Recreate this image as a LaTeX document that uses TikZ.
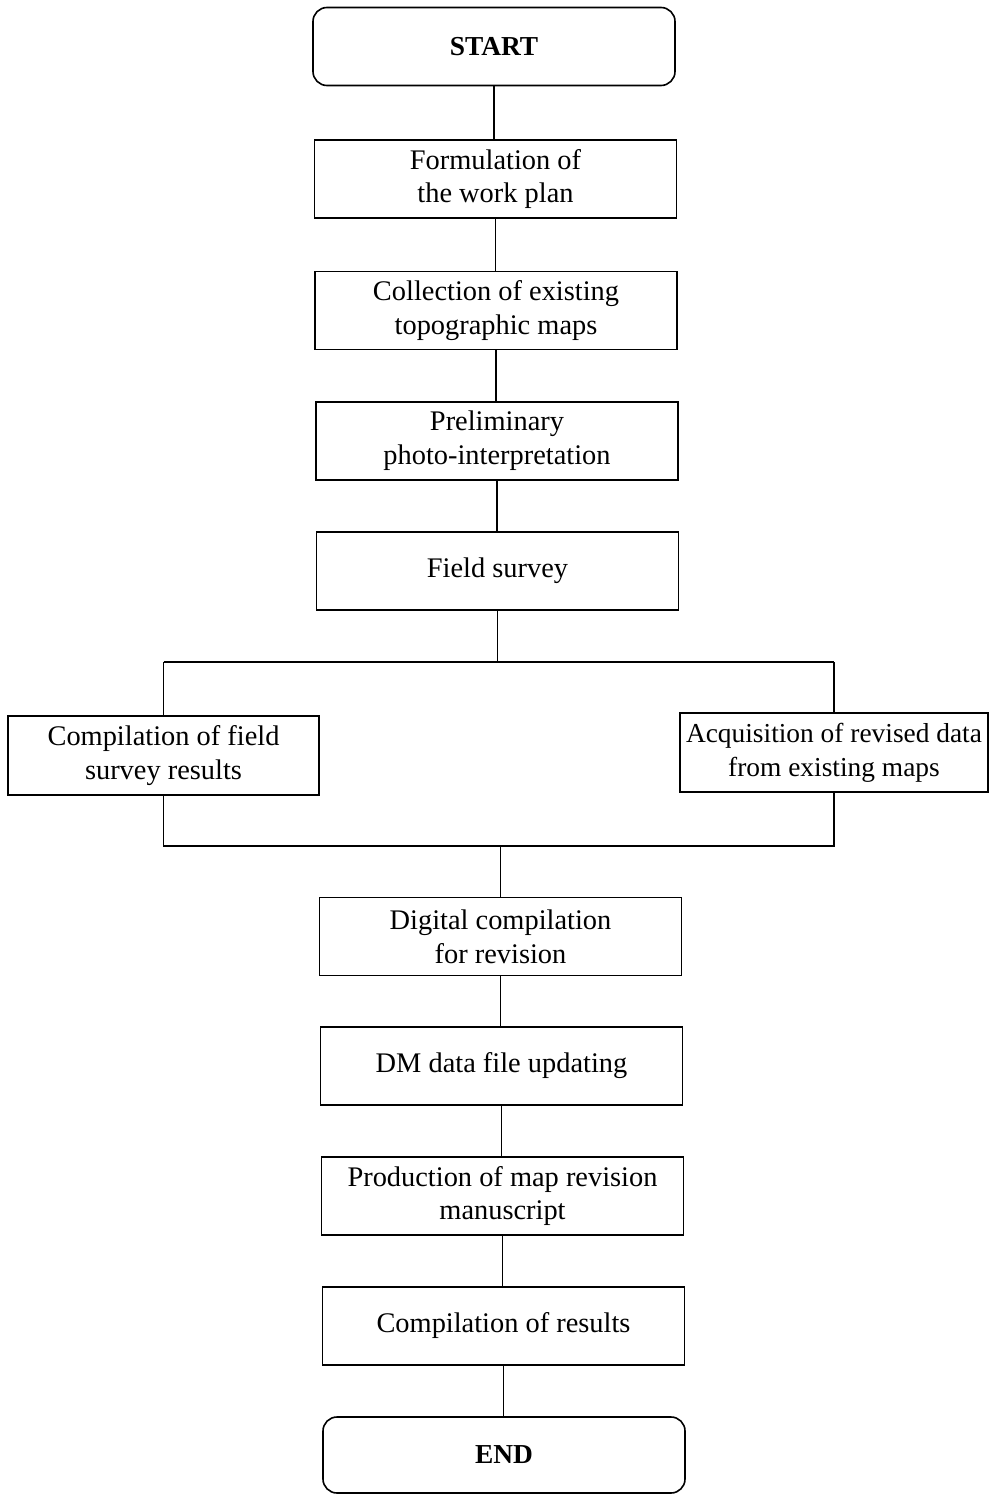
\documentclass[tikz,border=0pt]{standalone}
\usepackage{fontspec}
\setmainfont{Liberation Serif}
\begin{document}
\begin{tikzpicture}[x=1bp,y=-1bp,
  line width=1.6bp,
  stepbox/.style={draw, rectangle, minimum width=362bp, minimum height=78bp,
    inner sep=0pt, align=center, font=\fontsize{28.5}{34}\selectfont},
  termbox/.style={draw, rectangle, rounded corners=14bp, minimum width=362bp,
    minimum height=78bp, inner sep=0pt, font=\fontsize{27.5}{30}\selectfont\bfseries},
  sidebox/.style={stepbox, minimum width=310bp, minimum height=79bp}]
\useasboundingbox (0,0) rectangle (992,1495);

% main column
\node[termbox] (start) at (494,46.5) {START};
\node[stepbox] (plan) at (495.5,179) {Formulation of\\the work plan};
\node[stepbox] (maps) at (496,310.5) {Collection of existing\\topographic maps};
\node[stepbox] (photo) at (497,441) {Preliminary\\photo-interpretation};
\node[stepbox] (field) at (497.5,571) {Field survey};

% parallel branches
\node[sidebox, minimum width=311bp] (fres) at (163.5,755.5) {Compilation of field\\survey results};
\node[sidebox, minimum width=308bp, font=\fontsize{27.5}{34}\selectfont] (acq) at (834,752.5) {Acquisition of revised data\\from existing maps};

\node[stepbox] (digi) at (500.5,936.5) {Digital compilation\\for revision};
\node[stepbox] (dm) at (501.5,1066) {DM data file updating};
\node[stepbox] (prod) at (502.5,1196) {Production of map revision\\manuscript};
\node[stepbox] (res) at (503.5,1326) {Compilation of results};
\node[termbox, minimum height=76bp] (end) at (504,1455) {END};

% split and merge points
\coordinate (split) at (497.5,662);
\coordinate (sl) at (163.5,662);
\coordinate (sr) at (834,662);
\coordinate (merge) at (500.5,846);
\coordinate (ml) at (163.5,846);
\coordinate (mr) at (834,846);

% connectors
\draw (start.south) -- (start.south |- plan.north);
\draw (plan.south) -- (plan.south |- maps.north);
\draw (maps.south) -- (maps.south |- photo.north);
\draw (photo.south) -- (photo.south |- field.north);
\draw (field.south) -- (split);
\draw (sl) -- (sr);
\draw (sl) -- (fres.north);
\draw (sr) -- (acq.north);
\draw (fres.south) -- (ml) -- (mr) -- (acq.south);
\draw (merge) -- (digi.north);
\draw (digi.south) -- (digi.south |- dm.north);
\draw (dm.south) -- (dm.south |- prod.north);
\draw (prod.south) -- (prod.south |- res.north);
\draw (res.south) -- (res.south |- end.north);
\end{tikzpicture}
\end{document}
